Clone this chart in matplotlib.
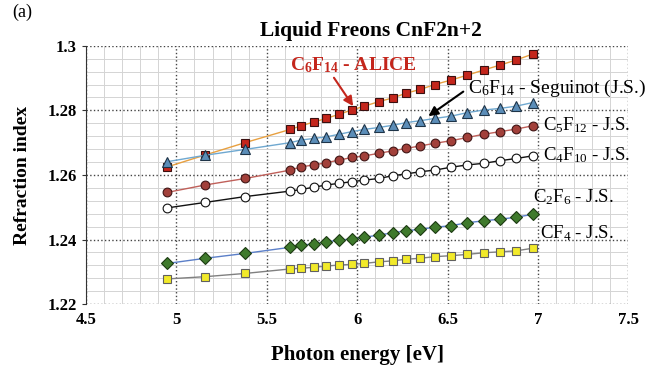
import numpy as np
import matplotlib.pyplot as plt

plt.rcParams['font.family'] = 'Liberation Serif'
plt.rcParams['mathtext.fontset'] = 'custom'
plt.rcParams['mathtext.rm'] = 'Liberation Serif'
plt.rcParams['mathtext.it'] = 'Liberation Serif:italic'
plt.rcParams['mathtext.bf'] = 'Liberation Serif:bold'

# Photon energies (eV), shared by all series
energy = [4.95, 5.16, 5.38, 5.63, 5.69, 5.76, 5.83, 5.90, 5.97, 6.04, 6.12,
          6.20, 6.27, 6.35, 6.43, 6.52, 6.61, 6.70, 6.79, 6.88, 6.97]

# Refraction index per liquid
c6f14_alice = [1.2625, 1.2662, 1.2700, 1.2741, 1.2752, 1.2764, 1.2775, 1.2788,
               1.2801, 1.2813, 1.2827, 1.2839, 1.2853, 1.2865, 1.2880, 1.2894,
               1.2909, 1.2925, 1.2940, 1.2956, 1.2974]
c6f14_seguinot = [1.2641, 1.2661, 1.2679, 1.2700, 1.2708, 1.2713, 1.2718, 1.2726,
                  1.2734, 1.2741, 1.2747, 1.2754, 1.2762, 1.2768, 1.2775, 1.2782,
                  1.2793, 1.2801, 1.2806, 1.2813, 1.2824]
c5f12 = [1.2546, 1.2569, 1.2589, 1.2615, 1.2625, 1.2631, 1.2638, 1.2646,
         1.2654, 1.2659, 1.2667, 1.2675, 1.2682, 1.2690, 1.2698, 1.2706,
         1.2716, 1.2726, 1.2734, 1.2742, 1.2752]
c4f10 = [1.2498, 1.2515, 1.2533, 1.2550, 1.2555, 1.2562, 1.2569, 1.2574,
         1.2579, 1.2584, 1.2589, 1.2598, 1.2603, 1.2610, 1.2615, 1.2624,
         1.2631, 1.2636, 1.2644, 1.2651, 1.2659]
c2f6 = [1.2326, 1.2342, 1.2357, 1.2376, 1.2383, 1.2386, 1.2393, 1.2398,
        1.2402, 1.2407, 1.2414, 1.2421, 1.2427, 1.2432, 1.2438, 1.2443,
        1.2452, 1.2458, 1.2463, 1.2469, 1.2478]
cf4 = [1.2278, 1.2285, 1.2295, 1.2309, 1.2311, 1.2314, 1.2318, 1.2321,
       1.2323, 1.2326, 1.2331, 1.2334, 1.2339, 1.2342, 1.2347, 1.2350,
       1.2354, 1.2359, 1.2362, 1.2365, 1.2373]

x_ticks = [4.5, 5, 5.5, 6, 6.5, 7, 7.5]
x_ticklabels = ['4.5', '5', '5.5', '6', '6.5', '7', '7.5']
y_ticks = [1.22, 1.24, 1.26, 1.28, 1.30]
y_ticklabels = ['1.22', '1.24', '1.26', '1.28', '1.3']

fig = plt.figure(figsize=(6.72, 3.75), dpi=100)
ax = fig.add_axes([0.128, 0.189, 0.807, 0.689])

# (values, line colour, marker, face colour, edge colour, size)
series = [
    (c6f14_alice, '#e8a040', 's', '#c4261c', '#3a1010', 6.3),
    (c6f14_seguinot, '#6fa8d0', '^', '#5b8db8', '#1e3448', 6.8),
    (c5f12, '#c0605a', 'o', '#a2403a', '#401515', 6.3),
    (c4f10, '#111111', 'o', 'white', '#111111', 6.3),
    (c2f6, '#5b7fc8', 'D', '#3f7a2c', '#1c3a12', 5.8),
    (cf4, '#808080', 's', '#f2ea2a', '#606060', 6.3),
]
for vals, lc, m, fc, ec, ms in series:
    ax.plot(energy, vals, color=lc, lw=1.0, marker=m, markerfacecolor=fc,
            markeredgecolor=ec, markeredgewidth=0.8, markersize=ms, zorder=3)

ax.set_xlim(4.5, 7.5)
ax.set_ylim(1.22, 1.30)
ax.set_xticks(x_ticks)
ax.set_xticklabels(x_ticklabels)
ax.set_xticks(np.arange(4.5, 7.51, 0.1), minor=True)
ax.set_yticks(y_ticks)
ax.set_yticklabels(y_ticklabels)
ax.set_yticks(np.arange(1.22, 1.3001, 0.004), minor=True)

ax.grid(which='minor', color='#d4d4d4', lw=0.7)
ax.grid(which='major', color='#444444', lw=1.0, ls=':')
ax.set_axisbelow(True)
for s in ['top', 'right', 'bottom']:
    ax.spines[s].set_visible(False)
ax.spines['left'].set_color('#333333')
ax.tick_params(which='both', length=0, labelsize=12)
ax.tick_params(axis='y', which='major', length=3, direction='out', color='#333333')
ax.tick_params(axis='x', pad=6)
for lab in ax.get_xticklabels() + ax.get_yticklabels():
    lab.set_fontweight('bold')

ax.set_xlabel('Photon energy [eV]', fontsize=15, fontweight='bold', labelpad=12)
ax.set_ylabel('Refraction index', fontsize=14, fontweight='bold', labelpad=12)
ax.set_title('Liquid Freons CnF2n+2', fontsize=15.5, fontweight='bold', pad=7, x=0.525)
fig.text(0.018, 0.955, '(a)', fontsize=13)

ax.annotate(r'$\mathbf{C_6F_{14}}$ - ALICE', xy=(5.978, 1.2813), xytext=(5.63, 1.294),
            color='#c4261c', fontsize=14, fontweight='bold', va='center',
            arrowprops=dict(arrowstyle='-|>', color='#c4261c', lw=1.5,
                            shrinkA=0, shrinkB=0, relpos=(0.33, 0.0)))
ax.annotate(r'$\mathrm{C_6F_{14}}$ - Seguinot (J.S.)', xy=(6.394, 1.2782),
            xytext=(6.615, 1.2869), fontsize=14, va='center',
            arrowprops=dict(arrowstyle='-|>', color='black', lw=1.5,
                            shrinkA=2, shrinkB=0, relpos=(0.0, 0.5)))
ax.text(7.03, 1.2754, r'$\mathrm{C_5F_{12}}$ - J.S.', fontsize=13.5, va='center')
ax.text(7.03, 1.2661, r'$\mathrm{C_4F_{10}}$ - J.S.', fontsize=13.5, va='center')
ax.text(6.975, 1.2532, r'$\mathrm{C_2F_6}$ - J.S.', fontsize=13.5, va='center')
ax.text(7.01, 1.2420, r'$\mathrm{CF_4}$ - J.S.', fontsize=13.5, va='center')

fig.savefig('out.png', dpi=100)
